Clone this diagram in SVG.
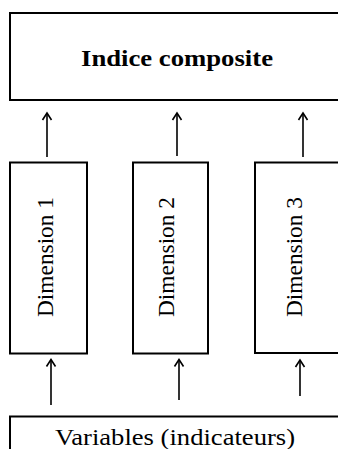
<svg xmlns="http://www.w3.org/2000/svg" width="338" height="449" viewBox="0 0 338 449">
<defs>
<marker id="arr" viewBox="0 0 12 12" refX="10" refY="6" markerWidth="12" markerHeight="12" markerUnits="userSpaceOnUse" orient="auto">
<path d="M3,1.5 L10,6 L3,10.5" fill="none" stroke="#000" stroke-width="1.6"/>
</marker>
</defs>
<style>
.box{fill:#fff;stroke:#000;stroke-width:2}
.t{fill:#000;text-anchor:middle}
.b{font-weight:bold;font-size:24px}
.r{font-size:23px}
.c{stroke:#000;stroke-width:1.6;fill:none}
</style>
<rect width="338" height="449" fill="#fff"/>
<g id="indice">
<path class="box" d="M340,13 H10 V100 H340"/>
<text class="t b" font-family="'Liberation Serif', 'DejaVu Serif', serif" x="177" y="66" textLength="192" lengthAdjust="spacingAndGlyphs">Indice composite</text>
</g>
<g id="dim1">
<rect class="box" x="10" y="162.5" width="77" height="191"/>
<text class="t r" font-family="'Liberation Serif', 'DejaVu Serif', serif" transform="translate(53.3,257) rotate(-90)" x="0" y="0" textLength="120" lengthAdjust="spacingAndGlyphs">Dimension 1</text>
</g>
<g id="dim2">
<rect class="box" x="133" y="162.5" width="75" height="191"/>
<text class="t r" font-family="'Liberation Serif', 'DejaVu Serif', serif" transform="translate(174,257) rotate(-90)" x="0" y="0" textLength="120" lengthAdjust="spacingAndGlyphs">Dimension 2</text>
</g>
<g id="dim3">
<path class="box" d="M340,162.5 H255 V353 H340"/>
<text class="t r" font-family="'Liberation Serif', 'DejaVu Serif', serif" transform="translate(301.7,257) rotate(-90)" x="0" y="0" textLength="120" lengthAdjust="spacingAndGlyphs">Dimension 3</text>
</g>
<g id="variables">
<path class="box" d="M10,452 V416.5 H340"/>
<text class="t" font-family="'Liberation Serif', 'DejaVu Serif', serif" font-size="24" x="175" y="445" textLength="240" lengthAdjust="spacingAndGlyphs">Variables (indicateurs)</text>
</g>
<g id="connectors">
<line class="c" x1="47" y1="157" x2="47" y2="113" marker-end="url(#arr)"/>
<line class="c" x1="177" y1="156" x2="177" y2="113" marker-end="url(#arr)"/>
<line class="c" x1="303" y1="157" x2="303" y2="113" marker-end="url(#arr)"/>
<line class="c" x1="51" y1="405" x2="51" y2="359.5" marker-end="url(#arr)"/>
<line class="c" x1="179" y1="400" x2="179" y2="359.5" marker-end="url(#arr)"/>
<line class="c" x1="300" y1="396" x2="300" y2="360" marker-end="url(#arr)"/>
</g>
</svg>
